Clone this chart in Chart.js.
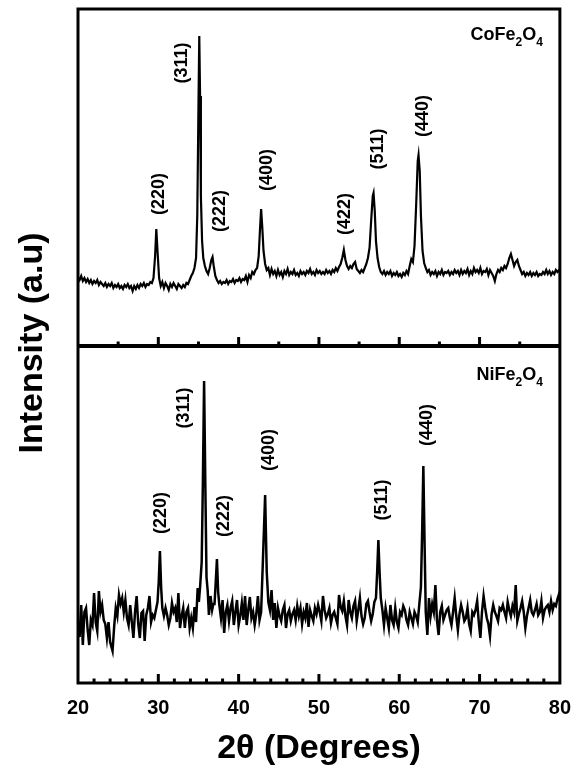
<!DOCTYPE html>
<html>
<head>
    <title>XRD patterns of CoFe2O4 and NiFe2O4</title>
    <script src="https://cdn.jsdelivr.net/npm/chart.js"></script>
    <style>
        body { margin: 0; background: #fff; }
        #wrap { width: 584px; height: 769px; }
    </style>
</head>
<body>
    <div id="wrap"><canvas id="xrdChart" width="584" height="769"></canvas></div>
    <script>
        // [2theta (deg), intensity (a.u.)]
        const coFe2O4 = [
            [20.0,69],[20.2,66],[20.4,70],[20.6,65],[20.8,68],[21.0,64],[21.2,67],[21.4,63],[21.6,66],[21.8,62],
            [22.0,65],[22.2,63],[22.4,66],[22.6,61],[22.8,64],[23.0,62],[23.2,60],[23.4,63],[23.6,59],[23.8,62],
            [24.0,60],[24.2,63],[24.4,58],[24.6,61],[24.8,59],[25.0,62],[25.2,58],[25.4,60],[25.6,57],[25.8,61],
            [26.0,59],[26.2,62],[26.4,58],[26.6,60],[26.8,55],[27.0,60],[27.2,57],[27.4,61],[27.6,58],[27.8,62],
            [28.0,60],[28.2,63],[28.4,59],[28.6,62],[28.8,61],[29.0,64],[29.2,63],[29.4,68],[29.6,90],[29.75,117],
            [29.9,95],[30.1,68],[30.3,60],[30.5,64],[30.7,58],[30.9,63],[31.1,60],[31.3,56],[31.5,62],[31.7,59],
            [31.9,63],[32.1,60],[32.3,57],[32.5,62],[32.7,60],[32.9,58],[33.1,61],[33.3,59],[33.5,63],[33.7,62],
            [33.9,66],[34.1,70],[34.3,73],[34.5,78],[34.7,88],[34.85,130],[35.0,240],[35.1,310],[35.2,250],[35.3,150],
            [35.45,105],[35.6,88],[35.8,80],[36.0,75],[36.2,72],[36.4,78],[36.6,86],[36.75,89],[36.9,80],[37.1,70],
            [37.3,66],[37.5,63],[37.7,65],[37.9,62],[38.1,64],[38.3,63],[38.5,66],[38.7,62],[38.9,65],[39.1,64],
            [39.3,67],[39.5,63],[39.7,66],[39.9,65],[40.1,68],[40.3,64],[40.5,67],[40.7,66],[40.9,70],[41.1,64],
            [41.3,71],[41.5,68],[41.7,74],[41.9,72],[42.1,76],[42.3,78],[42.5,90],[42.65,115],[42.8,137],[42.95,118],
            [43.1,95],[43.3,82],[43.5,76],[43.7,78],[43.9,71],[44.1,77],[44.3,72],[44.5,75],[44.7,70],[44.9,76],
            [45.1,71],[45.3,74],[45.5,69],[45.7,75],[45.9,72],[46.1,77],[46.3,71],[46.5,74],[46.7,72],[46.9,76],
            [47.1,71],[47.3,73],[47.5,70],[47.7,75],[47.9,72],[48.1,74],[48.3,71],[48.5,75],[48.7,73],[48.9,77],
            [49.1,72],[49.3,74],[49.5,71],[49.7,76],[49.9,73],[50.1,75],[50.3,72],[50.5,74],[50.7,72],[50.9,76],
            [51.1,73],[51.3,75],[51.5,72],[51.7,76],[51.9,74],[52.1,78],[52.3,75],[52.5,79],[52.7,82],[52.9,88],
            [53.1,96],[53.3,86],[53.5,80],[53.7,77],[53.9,80],[54.1,78],[54.3,82],[54.5,84],[54.7,77],[54.9,75],
            [55.1,73],[55.3,76],[55.5,74],[55.7,78],[55.9,82],[56.1,88],[56.3,98],[56.5,125],[56.7,150],[56.8,153],
            [56.95,135],[57.1,105],[57.3,88],[57.5,79],[57.7,74],[57.9,72],[58.1,75],[58.3,71],[58.5,74],[58.7,72],
            [58.9,75],[59.1,70],[59.3,73],[59.5,71],[59.7,74],[59.9,70],[60.1,72],[60.3,69],[60.5,73],[60.7,71],
            [60.9,75],[61.1,72],[61.3,80],[61.5,87],[61.7,84],[61.9,100],[62.1,140],[62.3,185],[62.4,191],[62.55,175],
            [62.7,130],[62.9,95],[63.1,83],[63.3,78],[63.5,74],[63.7,76],[63.9,71],[64.1,74],[64.3,72],[64.5,75],
            [64.7,70],[64.9,74],[65.1,72],[65.3,76],[65.5,71],[65.7,74],[65.9,73],[66.1,75],[66.3,71],[66.5,74],
            [66.7,72],[66.9,76],[67.1,73],[67.3,75],[67.5,71],[67.7,76],[67.9,72],[68.1,75],[68.3,73],[68.5,77],
            [68.7,71],[68.9,75],[69.1,72],[69.3,78],[69.5,74],[69.7,76],[69.9,73],[70.1,78],[70.3,72],[70.5,75],
            [70.7,74],[70.9,77],[71.1,71],[71.3,76],[71.5,73],[71.7,70],[71.9,65],[72.1,72],[72.3,76],[72.5,74],
            [72.7,78],[72.9,76],[73.1,80],[73.3,78],[73.5,82],[73.7,88],[73.9,92],[74.1,86],[74.3,80],[74.5,84],
            [74.7,86],[74.9,80],[75.1,76],[75.3,72],[75.5,74],[75.7,70],[75.9,73],[76.1,71],[76.3,74],[76.5,70],
            [76.7,73],[76.9,71],[77.1,74],[77.3,70],[77.5,72],[77.7,71],[77.9,74],[78.1,72],[78.3,76],[78.5,72],
            [78.7,75],[78.9,71],[79.1,74],[79.3,72],[79.5,76],[79.7,74],[79.9,76],[80.0,75]
        ];

        const niFe2O4 = [
            [20.0,60],[20.2,45],[20.4,77],[20.6,37],[20.8,70],[21.0,74],[21.2,52],[21.4,37],[21.6,62],[21.8,57],
            [22.0,89],[22.2,60],[22.4,51],[22.6,91],[22.8,70],[23.0,77],[23.2,62],[23.4,58],[23.6,44],[23.8,60],
            [24.0,40],[24.3,31],[24.5,55],[24.7,74],[24.9,66],[25.1,87],[25.3,78],[25.5,84],[25.7,70],[25.9,82],
            [26.1,64],[26.3,57],[26.5,77],[26.7,60],[26.9,44],[27.1,70],[27.3,86],[27.5,58],[27.7,44],[27.9,69],
            [28.1,71],[28.3,41],[28.5,67],[28.7,74],[28.9,86],[29.1,60],[29.3,67],[29.5,64],[29.7,72],[29.9,80],
            [30.05,100],[30.2,131],[30.35,95],[30.5,74],[30.7,66],[30.9,74],[31.1,67],[31.3,57],[31.5,64],[31.7,79],
            [31.9,70],[32.1,74],[32.3,60],[32.5,89],[32.7,54],[32.9,66],[33.1,74],[33.3,54],[33.5,70],[33.7,74],
            [33.9,54],[34.1,64],[34.3,54],[34.5,75],[34.7,60],[34.9,94],[35.05,80],[35.2,95],[35.4,120],[35.55,200],
            [35.7,301],[35.85,200],[36.0,105],[36.15,91],[36.3,67],[36.5,86],[36.7,72],[36.85,78],[37.0,78],[37.15,100],
            [37.3,123],[37.45,90],[37.6,77],[37.8,64],[38.0,82],[38.2,49],[38.4,70],[38.6,77],[38.8,61],[39.0,74],
            [39.2,81],[39.4,57],[39.6,70],[39.8,82],[40.0,57],[40.2,66],[40.4,79],[40.6,62],[40.8,86],[41.0,57],
            [41.2,72],[41.4,85],[41.6,64],[41.8,70],[42.0,57],[42.2,68],[42.4,86],[42.6,62],[42.8,70],[43.0,116],
            [43.3,187],[43.5,110],[43.7,80],[43.9,72],[44.1,92],[44.3,62],[44.5,79],[44.7,54],[44.9,74],[45.1,66],
            [45.3,61],[45.5,72],[45.7,77],[45.9,54],[46.1,68],[46.3,72],[46.5,61],[46.7,68],[46.9,72],[47.1,62],
            [47.3,76],[47.5,66],[47.7,74],[47.9,58],[48.1,70],[48.3,64],[48.5,79],[48.7,55],[48.9,72],[49.1,66],
            [49.3,61],[49.5,74],[49.7,68],[49.9,77],[50.1,70],[50.3,61],[50.5,86],[50.7,72],[50.9,64],[51.1,68],
            [51.3,74],[51.5,59],[51.7,67],[51.9,70],[52.1,64],[52.3,58],[52.5,87],[52.7,75],[52.9,71],[53.1,81],
            [53.3,66],[53.5,57],[53.7,82],[53.9,70],[54.1,64],[54.3,76],[54.5,81],[54.7,61],[54.9,72],[55.1,84],
            [55.3,66],[55.5,58],[55.7,64],[55.9,78],[56.1,81],[56.3,70],[56.5,61],[56.7,68],[56.9,80],[57.1,84],
            [57.25,110],[57.4,142],[57.55,110],[57.7,84],[57.9,72],[58.1,57],[58.3,74],[58.5,64],[58.7,54],[58.9,77],
            [59.1,62],[59.3,57],[59.5,74],[59.7,60],[59.9,54],[60.1,70],[60.3,67],[60.5,76],[60.7,72],[60.9,62],
            [61.1,57],[61.3,70],[61.5,64],[61.7,58],[61.9,70],[62.1,66],[62.3,60],[62.5,78],[62.7,95],[62.85,150],
            [63.0,216],[63.15,140],[63.3,70],[63.5,47],[63.7,84],[63.9,66],[64.1,78],[64.3,70],[64.5,97],[64.7,61],
            [64.9,47],[65.1,70],[65.3,76],[65.5,62],[65.7,67],[65.9,72],[66.1,74],[66.3,64],[66.5,57],[66.7,70],
            [66.9,84],[67.1,66],[67.3,52],[67.5,68],[67.7,77],[67.9,70],[68.1,61],[68.3,64],[68.5,74],[68.7,58],
            [68.9,51],[69.1,70],[69.3,67],[69.5,72],[69.7,81],[69.9,60],[70.1,44],[70.3,70],[70.5,86],[70.7,74],
            [70.9,64],[71.1,58],[71.3,46],[71.5,68],[71.7,77],[71.9,70],[72.1,66],[72.3,61],[72.5,74],[72.7,72],
            [72.9,77],[73.1,70],[73.3,64],[73.5,80],[73.7,72],[73.9,66],[74.1,76],[74.3,70],[74.5,97],[74.7,61],
            [74.9,68],[75.1,74],[75.3,81],[75.5,70],[75.7,54],[75.9,66],[76.1,74],[76.3,82],[76.5,70],[76.7,67],
            [76.9,72],[77.1,78],[77.3,67],[77.5,70],[77.7,81],[77.9,64],[78.1,72],[78.3,75],[78.5,77],[78.7,70],
            [78.9,81],[79.1,72],[79.3,78],[79.5,76],[79.7,83],[79.9,88],[80.0,81]
        ];

        // peak indexing labels: text, 2theta and intensity of the label centre
        const coHkl = ['(220)', '(311)', '(222)', '(400)', '(422)', '(511)', '(440)'];
        const coHklTheta = [30.1, 32.9, 37.65, 43.5, 53.3, 57.35, 63.0];
        const coHklLevel = [152, 283, 135, 176, 132, 197, 230];
        const niHkl = ['(220)', '(311)', '(222)', '(400)', '(511)', '(440)'];
        const niHklTheta = [30.4, 33.15, 38.15, 43.8, 57.9, 63.4];
        const niHklLevel = [169, 274, 166, 232, 182, 257];

        const xTickValues = [20, 30, 40, 50, 60, 70, 80];
        const coMinorTicks = [25, 35, 45, 55, 65, 75];
        const niMinorTicks = [22, 24, 26, 28, 32, 34, 36, 38, 42, 44, 46, 48, 52, 54, 56, 58, 62, 64, 66, 68, 72, 74, 76, 78];

        const FONT = 'Arial, "Liberation Sans", Helvetica, sans-serif';

        function drawFormula(ctx, parts, right, baseline) {
            // parts: [text, isSubscript]
            let width = 0;
            parts.forEach(([t, sub]) => {
                ctx.font = 'bold ' + (sub ? 12 : 18) + 'px ' + FONT;
                width += ctx.measureText(t).width;
            });
            let x = right - width;
            ctx.textAlign = 'left';
            ctx.textBaseline = 'alphabetic';
            parts.forEach(([t, sub]) => {
                ctx.font = 'bold ' + (sub ? 12 : 18) + 'px ' + FONT;
                ctx.fillText(t, x, baseline + (sub ? 6 : 0));
                x += ctx.measureText(t).width;
            });
        }

        const framePlugin = {
            id: 'frame',
            afterDatasetsDraw(chart) {
                const {ctx, chartArea: a, scales: {x, yCo, yNi}} = chart;
                ctx.save();
                ctx.strokeStyle = '#000';
                ctx.fillStyle = '#000';

                // box and divider
                ctx.lineWidth = 3;
                ctx.strokeRect(a.left, a.top, a.right - a.left, a.bottom - a.top);
                ctx.lineWidth = 4;
                ctx.beginPath();
                ctx.moveTo(a.left, yCo.bottom);
                ctx.lineTo(a.right, yCo.bottom);
                ctx.stroke();

                // inward tick marks
                ctx.lineWidth = 3;
                const tick = (v, base, len) => {
                    const px = x.getPixelForValue(v);
                    ctx.beginPath();
                    ctx.moveTo(px, base);
                    ctx.lineTo(px, base - len);
                    ctx.stroke();
                };
                xTickValues.slice(1, -1).forEach(v => { tick(v, yCo.bottom, 9); tick(v, yNi.bottom, 9); });
                coMinorTicks.forEach(v => tick(v, yCo.bottom, 4.5));
                niMinorTicks.forEach(v => tick(v, yNi.bottom, 4.5));

                // peak labels
                ctx.font = 'bold 18px ' + FONT;
                ctx.textAlign = 'center';
                ctx.textBaseline = 'middle';
                const label = (t, th, lv, scale) => {
                    ctx.save();
                    ctx.translate(x.getPixelForValue(th), scale.getPixelForValue(lv));
                    ctx.rotate(-Math.PI / 2);
                    ctx.fillText(t, 0, 0);
                    ctx.restore();
                };
                coHkl.forEach((t, i) => label(t, coHklTheta[i], coHklLevel[i], yCo));
                niHkl.forEach((t, i) => label(t, niHklTheta[i], niHklLevel[i], yNi));

                // sample names
                drawFormula(ctx, [['CoFe', false], ['2', true], ['O', false], ['4', true]], a.right - 17, yCo.top + 31);
                drawFormula(ctx, [['NiFe', false], ['2', true], ['O', false], ['4', true]], a.right - 17, yNi.top + 34);

                // axis titles
                ctx.font = 'bold 34px ' + FONT;
                ctx.textAlign = 'center';
                ctx.textBaseline = 'alphabetic';
                ctx.fillText('2\u03B8 (Degrees)', (a.left + a.right) / 2, 758);
                ctx.save();
                ctx.translate(42, (a.top + a.bottom) / 2 - 3);
                ctx.rotate(-Math.PI / 2);
                ctx.fillText('Intensity (a.u)', 0, 0);
                ctx.restore();

                ctx.restore();
            }
        };

        const hiddenY = (min, max, weight) => ({
            type: 'linear',
            position: 'left',
            stack: 'xrd',
            stackWeight: 1,
            weight: weight,
            min: min,
            max: max,
            ticks: { display: false },
            grid: { display: false, drawTicks: false },
            border: { display: false },
            afterFit(s) { s.width = 0; }
        });

        new Chart(document.getElementById('xrdChart'), {
            type: 'line',
            data: {
                datasets: [{
                    label: 'CoFe2O4',
                    data: coFe2O4.map(([t, i]) => ({x: t, y: i})),
                    yAxisID: 'yCo',
                    borderColor: '#000',
                    borderWidth: 2.2,
                    pointRadius: 0,
                    tension: 0
                }, {
                    label: 'NiFe2O4',
                    data: niFe2O4.map(([t, i]) => ({x: t, y: i})),
                    yAxisID: 'yNi',
                    borderColor: '#000',
                    borderWidth: 2.5,
                    pointRadius: 0,
                    tension: 0
                }]
            },
            options: {
                responsive: false,
                animation: false,
                layout: { padding: { top: 9, left: 78, right: 15, bottom: 0 } },
                plugins: { legend: { display: false }, tooltip: { enabled: false } },
                scales: {
                    x: {
                        type: 'linear',
                        min: 20,
                        max: 80,
                        afterBuildTicks(s) { s.ticks = xTickValues.map(v => ({value: v})); },
                        ticks: {
                            color: '#000',
                            font: { family: FONT, size: 20, weight: 'bold' },
                            padding: 13,
                            maxRotation: 0,
                            autoSkip: false
                        },
                        grid: { display: false, drawTicks: false },
                        border: { display: false },
                        afterFit(s) { s.height = 86; }
                    },
                    yNi: hiddenY(-1, 336, 1),
                    yCo: hiddenY(0, 337, 2)
                }
            },
            plugins: [framePlugin]
        });
    </script>
</body>
</html>
